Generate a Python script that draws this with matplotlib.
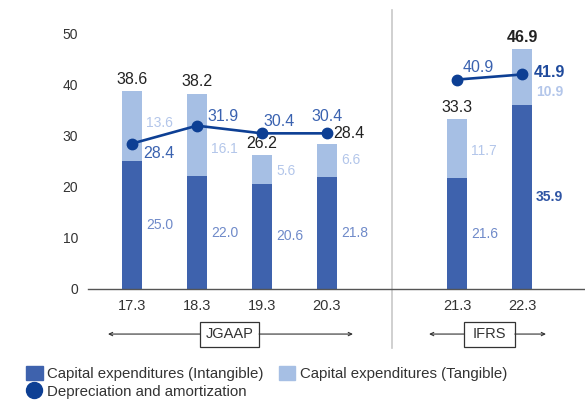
import matplotlib
matplotlib.use("Agg")
import matplotlib.pyplot as plt
import matplotlib.transforms as mtransforms
from matplotlib.patches import Rectangle, Patch
from matplotlib.lines import Line2D

# data (billion yen)
periods = ["17.3", "18.3", "19.3", "20.3", "21.3", "22.3"]
standards = ["JGAAP", "JGAAP", "JGAAP", "JGAAP", "IFRS", "IFRS"]
intangible = [25.0, 22.0, 20.6, 21.8, 21.6, 35.9]
tangible = [13.6, 16.1, 5.6, 6.6, 11.7, 10.9]
totals = [38.6, 38.2, 26.2, 28.4, 33.3, 46.9]
depreciation = [28.4, 31.9, 30.4, 30.4, 40.9, 41.9]

plt.rcParams['font.family'] = ['Liberation Sans', 'DejaVu Sans']

c_intang = '#3E62AD'
c_tang = '#A6BFE4'
c_line = '#0D3F94'
c_txt = '#333333'

# positions: one empty slot between the two accounting standards
xpos = []
slot = 0
for i, s in enumerate(standards):
    if i > 0 and s != standards[i - 1]:
        slot += 1
    xpos.append(slot)
    slot += 1
bw = 0.31

fig = plt.figure(figsize=(5.85, 4.01), dpi=100)
ax = fig.add_axes([88 / 585, 112 / 401, 497 / 585, 256 / 401])

ax.bar(xpos, intangible, width=bw, color=c_intang, zorder=2)
ax.bar(xpos, tangible, width=bw, bottom=intangible, color=c_tang, zorder=2)

# depreciation line, one segment per accounting standard
for std in ["JGAAP", "IFRS"]:
    xs = [x for x, s in zip(xpos, standards) if s == std]
    ys = [d for d, s in zip(depreciation, standards) if s == std]
    ax.plot(xs, ys, color=c_line, lw=1.9, marker='o', ms=7.5, zorder=4)

ax.set_xlim(-0.677, 6.97)
ax.set_ylim(0, 50)
ax.set_yticks(range(0, 51, 10))
ax.set_xticks(xpos)
ax.set_xticklabels(periods)
ax.tick_params(axis='x', length=0, pad=7, labelsize=10.5, labelcolor=c_txt)
ax.tick_params(axis='y', length=0, pad=7, labelsize=10, labelcolor=c_txt)
for sp in ['top', 'right', 'left']:
    ax.spines[sp].set_visible(False)
ax.spines['bottom'].set_color('#555555')
ax.spines['bottom'].set_linewidth(1.0)

last = len(periods) - 1

# value labels
dep_off = [(11, -10, 'left'), (10, 9, 'left'), (1, 12, 'left'),
           (0, 17, 'center'), (6, 12, 'left'), (12, 2, 'left')]
tang_shift = [0.6, -2.8, -0.4, 0, -0.4, -2.8]
for i, x in enumerate(xpos):
    bold = 'bold' if i == last else 'normal'
    ax.annotate(f"{intangible[i]:.1f}", (x + bw / 2, intangible[i] / 2),
                xytext=(4, 0), textcoords='offset pixels', ha='left', va='center',
                fontsize=10, color='#2F55A4' if i == last else '#6F8AC9',
                fontweight=bold)
    ax.annotate(f"{tangible[i]:.1f}", (x + bw / 2, intangible[i] + tangible[i] / 2 + tang_shift[i]),
                xytext=(4, 0), textcoords='offset pixels', ha='left', va='center',
                fontsize=10, color='#B3C6EA', fontweight=bold)
    if i == 3:
        ax.annotate(f"{totals[i]:.1f}", (x, totals[i]), xytext=(6, 3),
                    textcoords='offset pixels', ha='left', va='bottom',
                    fontsize=11.5, color='#222222')
    else:
        ax.annotate(f"{totals[i]:.1f}", (x, totals[i]), xytext=(0, 4),
                    textcoords='offset pixels', ha='center', va='bottom',
                    fontsize=11.5, color='#222222', fontweight=bold)
    dx, dy, ha = dep_off[i]
    ax.annotate(f"{depreciation[i]:.1f}", (x, depreciation[i]), xytext=(dx, dy),
                textcoords='offset pixels', ha=ha, va='center', fontsize=11.5,
                color='#1F4A9C' if i == last else '#3A62B0', fontweight=bold,
                zorder=5)

# separator between JGAAP and IFRS
sep_x = (xpos[3] + xpos[4]) / 2
ax.axvline(sep_x, ymin=-0.23, ymax=1.09, color='#C8C8C8', lw=1.2, clip_on=False)

# standard brackets under the axis
trans = mtransforms.blended_transform_factory(ax.transData, ax.transAxes)
y_br = -0.176
brackets = [("JGAAP", -0.37, 3.4, 0.91, 1.5), ("IFRS", 4.57, 6.37, 0.78, 5.5)]
for name, x0, x1, boxw, xc in brackets:
    ax.add_patch(Rectangle((xc - boxw / 2, y_br - 0.049), boxw, 0.098, transform=trans,
                           fill=False, edgecolor='#333333', lw=0.9, clip_on=False))
    ax.text(xc, y_br, name, transform=trans, ha='center', va='center',
            fontsize=10.5, color=c_txt)
    for a, b in [(xc - boxw / 2, x0), (xc + boxw / 2, x1)]:
        ax.annotate("", xy=(b, y_br), xycoords=trans, xytext=(a, y_br), textcoords=trans,
                    arrowprops=dict(arrowstyle='->,head_length=0.25,head_width=0.12',
                                    color='#333333', lw=0.8, shrinkA=0, shrinkB=0),
                    annotation_clip=False)

handles = [Patch(color=c_intang),
           Line2D([], [], ls='none', marker='o', ms=11.5, color=c_line),
           Patch(color=c_tang)]
labels = ["Capital expenditures (Intangible)", "Depreciation and amortization",
          "Capital expenditures (Tangible)"]
fig.legend(handles, labels, ncol=2, loc='upper left', bbox_to_anchor=(26 / 585, 1 - 366 / 401),
           frameon=False, fontsize=10.8, handlelength=1.1, handleheight=1.05,
           handletextpad=0.3, columnspacing=1.0, labelspacing=0.2, borderpad=0,
           borderaxespad=0, labelcolor=c_txt)

fig.savefig("out.png", dpi=100)
